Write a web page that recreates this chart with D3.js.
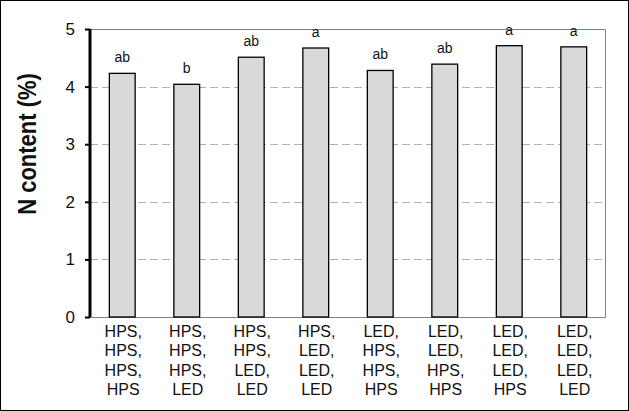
<!DOCTYPE html>
<html>
<head>
<meta charset="utf-8">
<script src="https://cdn.jsdelivr.net/npm/d3@7"></script>
<style>
  body { margin: 0; background: #fff; }
  svg { display: block; font-family: "Liberation Sans", Arial, sans-serif; }
</style>
</head>
<body>
<div id="chart"></div>
<script>
// treatment combinations (one line each in the axis label)
const treatments = [
    ['HPS,', 'HPS,', 'HPS,', 'HPS'],
    ['HPS,', 'HPS,', 'HPS,', 'LED'],
    ['HPS,', 'HPS,', 'LED,', 'LED'],
    ['HPS,', 'LED,', 'LED,', 'LED'],
    ['LED,', 'HPS,', 'HPS,', 'HPS'],
    ['LED,', 'LED,', 'HPS,', 'HPS'],
    ['LED,', 'LED,', 'LED,', 'HPS'],
    ['LED,', 'LED,', 'LED,', 'LED']
];
const nContent = [4.23, 4.04, 4.51, 4.67, 4.28, 4.39, 4.71, 4.69];
const letters = ['ab', 'b', 'ab', 'a', 'ab', 'ab', 'a', 'a'];
const yTicks = [0, 1, 2, 3, 4, 5];

const W = 629, H = 411;
const margin = { top: 29, right: 23, bottom: 94, left: 90 };
const width = W - margin.left - margin.right;
const height = H - margin.top - margin.bottom;

const svg = d3.select('#chart').append('svg')
    .attr('width', W)
    .attr('height', H);

svg.append('rect')
    .attr('x', 0.5).attr('y', 0.5)
    .attr('width', W - 1).attr('height', H - 1)
    .attr('fill', '#fff')
    .attr('stroke', '#000');

const g = svg.append('g')
    .attr('transform', `translate(${margin.left},${margin.top})`);

const x = d3.scaleBand()
    .domain(d3.range(treatments.length))
    .range([0, width])
    .paddingInner(0.6)
    .paddingOuter(0.3);

const y = d3.scaleLinear()
    .domain([0, 5])
    .range([height, 0]);

// gridlines
g.selectAll('.grid')
    .data(yTicks.filter(d => d > 0 && d < 5))
    .enter().append('line')
    .attr('class', 'grid')
    .attr('x1', 0).attr('x2', width)
    .attr('y1', d => Math.round(y(d)) + 0.5)
    .attr('y2', d => Math.round(y(d)) + 0.5)
    .attr('stroke', '#b0b0b0')
    .attr('stroke-dasharray', '8,4');

// plot frame (top, right, bottom)
g.append('path')
    .attr('d', `M0,0.5H${width - 0.5}V${height + 0.5}H0`)
    .attr('fill', 'none')
    .attr('stroke', '#808080');

// bars
g.selectAll('.bar')
    .data(nContent)
    .enter().append('rect')
    .attr('class', 'bar')
    .attr('x', (d, i) => x(i))
    .attr('y', d => y(d))
    .attr('width', x.bandwidth())
    .attr('height', d => height - y(d))
    .attr('fill', '#d9d9d9')
    .attr('stroke', '#000')
    .attr('stroke-width', 1.3);

// significance letters
g.selectAll('.letter')
    .data(nContent)
    .enter().append('text')
    .attr('class', 'letter')
    .attr('x', (d, i) => x(i) + x.bandwidth() / 2)
    .attr('y', d => y(d) - 11)
    .attr('text-anchor', 'middle')
    .attr('font-size', 14)
    .attr('fill', '#111')
    .text((d, i) => letters[i]);

// y axis
const yAxis = g.append('g')
    .call(d3.axisLeft(y).tickValues(yTicks).tickSize(5).tickPadding(10).tickFormat(d3.format('d')));
yAxis.select('.domain')
    .attr('stroke-width', 3)
    .attr('d', `M0,0V${height}`);
yAxis.selectAll('.tick line').attr('stroke-width', 2);
yAxis.selectAll('.tick text')
    .attr('font-size', 17)
    .attr('font-family', '"Liberation Sans", Arial, sans-serif')
    .attr('fill', '#111');

// x labels
const xl = g.selectAll('.xlab')
    .data(treatments)
    .enter().append('text')
    .attr('class', 'xlab')
    .attr('x', (d, i) => x(i) + x.bandwidth() / 2 + 1)
    .attr('y', height + 20)
    .attr('text-anchor', 'middle')
    .attr('font-size', 16)
    .attr('fill', '#111');
xl.selectAll('tspan')
    .data(d => d)
    .enter().append('tspan')
    .attr('x', function() { return d3.select(this.parentNode).attr('x'); })
    .attr('dy', (d, i) => i === 0 ? 0 : 19.4)
    .text(d => d);

// y label
svg.append('text')
    .attr('transform', 'translate(36,144) rotate(-90) scale(0.88,1)')
    .attr('text-anchor', 'middle')
    .attr('font-size', 25)
    .attr('font-weight', 'bold')
    .attr('fill', '#111')
    .text('N content (%)');
</script>
</body>
</html>
